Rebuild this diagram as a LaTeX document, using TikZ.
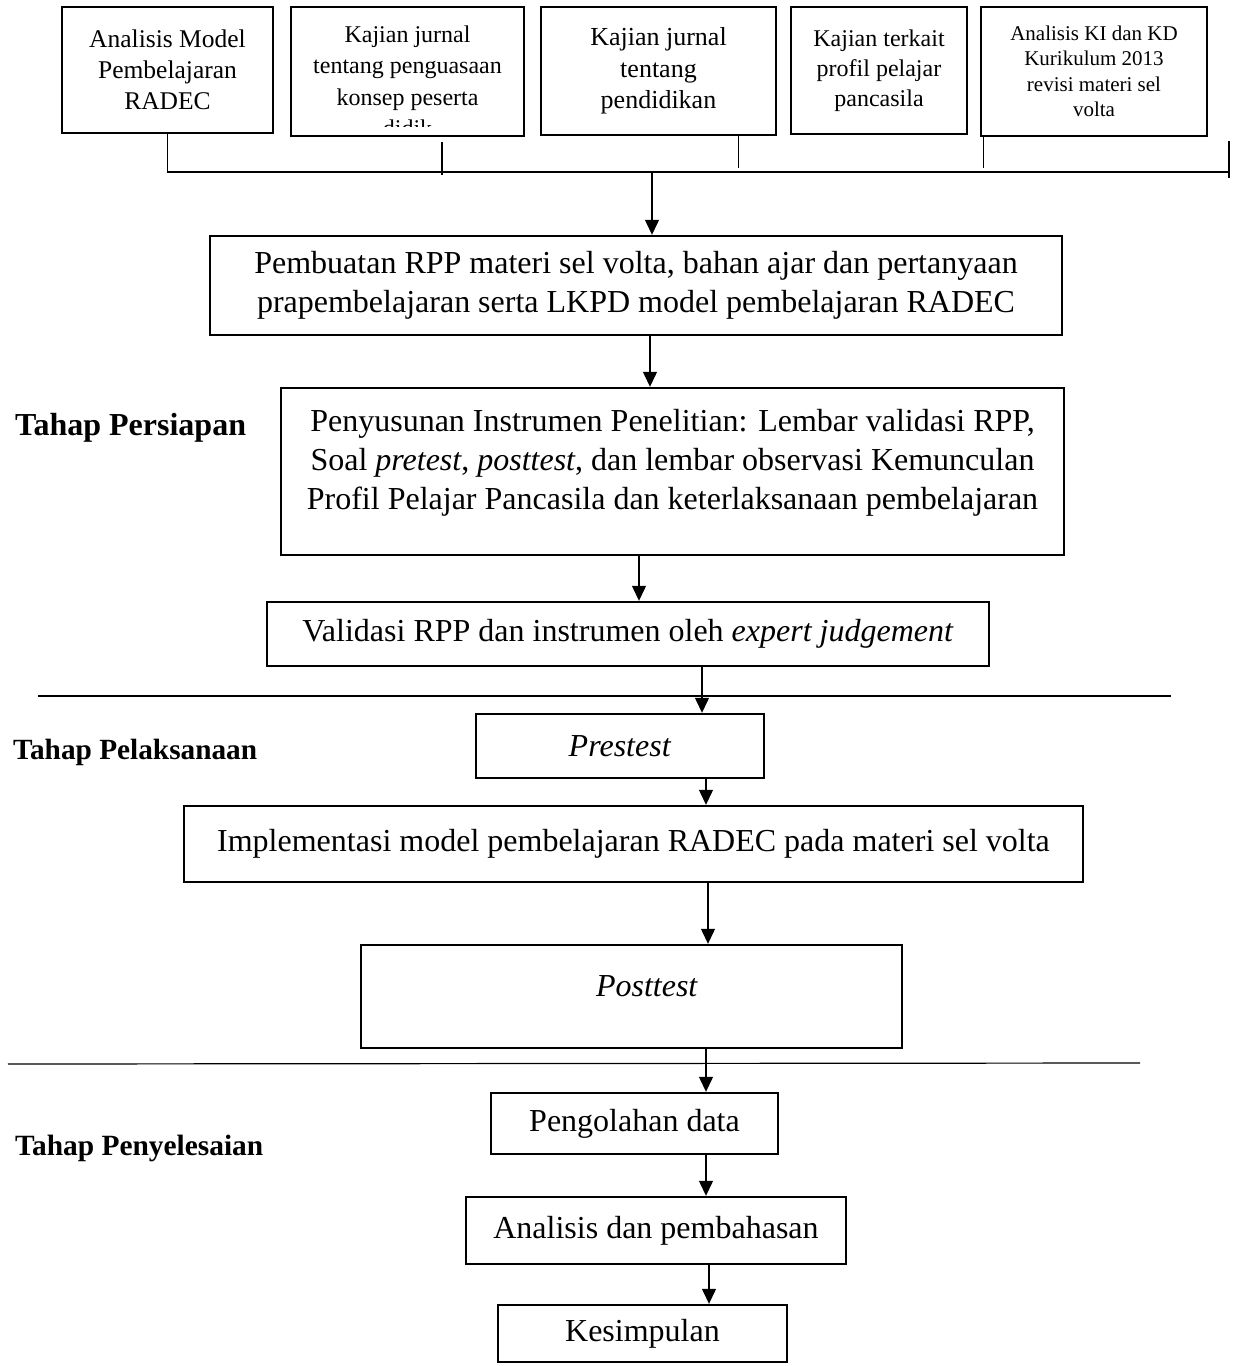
\documentclass[tikz,border=0pt]{standalone}
\usepackage{fontspec}
\setmainfont{Liberation Serif}
\usetikzlibrary{arrows.meta}
\tikzstyle{kotak}=[rectangle, draw, line width=2.4pt, align=center, inner sep=0pt]
\tikzstyle{panah}=[line width=1.2pt, -{Triangle[width=14pt,length=15pt]}]
\tikzstyle{garis}=[line width=1.2pt]
\tikzstyle{tahap}=[anchor=west, inner sep=0pt]
\newcommand{\kotak}{\node[kotak]}
\newcommand{\besar}{\fontsize{32}{39}\selectfont}

\begin{document}
\begin{tikzpicture}[x=1pt, y=-1pt]
            \useasboundingbox (0,0) rectangle (1237,1366);
            % kajian awal
            \kotak[minimum width=211pt, minimum height=126pt, font=\fontsize{25.5}{31}\selectfont] (a) at (167.5,70) {Analisis Model\\Pembelajaran\\RADEC};
            \kotak[minimum width=233pt, minimum height=129pt] (b) at (407.5,71.5) {};
            \begin{scope}
                \clip (293,9) rectangle (522,126);
                \node[align=center, inner sep=0pt, font=\fontsize{24}{31.5}\selectfont] (bteks) at (407.5,81.5) {Kajian jurnal\\tentang penguasaan\\konsep peserta\\didik};
            \end{scope}
            \kotak[minimum width=235pt, minimum height=128pt, font=\fontsize{26}{31.5}\selectfont] (c) at (658.5,71) {Kajian jurnal\\tentang\\pendidikan};
            \kotak[minimum width=176pt, minimum height=127pt, font=\fontsize{24}{30}\selectfont] (d) at (879,70.5) {Kajian terkait\\profil pelajar\\pancasila};
            \kotak[minimum width=226pt, minimum height=129pt, font=\fontsize{21}{25.5}\selectfont] (e) at (1094,71.5) {Analisis KI dan KD\\Kurikulum 2013\\revisi materi sel\\volta};
            % garis penghubung
            \coordinate (bus) at (0,172);
            \coordinate (ujung) at (1229,141);
            \coordinate (ujung2) at (1229,178);
            \draw[garis] (a.south) -- (a.south |- bus) -- (ujung |- bus);
            \draw[garis] ([xshift=34.5pt,yshift=-5pt]b.south) -- ([xshift=34.5pt,yshift=-3pt]b.south |- bus);
            \draw[garis] ([xshift=80pt]c.south) -- ([xshift=80pt,yshift=4pt]c.south |- bus);
            \draw[garis] ([xshift=4pt]e.south west) -- ([xshift=4pt,yshift=4pt]e.south west |- bus);
            \draw[garis] (ujung) -- (ujung2);
            % alur utama
            \kotak[minimum width=852pt, minimum height=99pt, font=\besar] (f) at (636,285.5) {Pembuatan RPP materi sel volta, bahan ajar dan pertanyaan\\prapembelajaran serta LKPD model pembelajaran RADEC};
            \kotak[minimum width=783pt, minimum height=167pt] (g) at (672.5,471.5) {};
            \node[align=center, inner sep=0pt, font=\besar] (gteks) at (672.5,462.5) {Penyusunan Instrumen Penelitian: Lembar validasi RPP,\\Soal \textit{pretest}, \textit{posttest}, dan lembar observasi Kemunculan\\Profil Pelajar Pancasila dan keterlaksanaan pembelajaran};
            \kotak[minimum width=722pt, minimum height=64pt, font=\besar] (h) at (628,634) {Validasi RPP dan instrumen oleh \textit{expert judgement}};
            \kotak[minimum width=288pt, minimum height=64pt, font=\besar] (i) at (620,746) {\textit{Prestest}};
            \kotak[minimum width=899pt, minimum height=76pt, font=\besar] (j) at (633.5,844) {Implementasi model pembelajaran RADEC pada materi sel volta};
            \kotak[minimum width=541pt, minimum height=103pt] (k) at (631.5,996.5) {};
            \node[inner sep=0pt, font=\besar] (kteks) at (647,986) {\textit{Posttest}};
            \kotak[minimum width=287pt, minimum height=61pt, font=\besar] (l) at (634.5,1123.5) {Pengolahan data};
            \kotak[minimum width=380pt, minimum height=67pt, font=\besar] (m) at (656,1230.5) {Analisis dan pembahasan};
            \kotak[minimum width=289pt, minimum height=57pt, font=\besar] (n) at (642.5,1333.5) {Kesimpulan};
            % tahap
            \node[tahap, font=\fontsize{32}{38}\selectfont\bfseries] (t1) at (15,428) {Tahap Persiapan};
            \node[tahap, font=\fontsize{29.3}{35}\selectfont\bfseries] (t2) at (13,752) {Tahap Pelaksanaan};
            \node[tahap, font=\fontsize{29.4}{35}\selectfont\bfseries] (t3) at (15,1148) {Tahap Penyelesaian};
            \draw[garis] (38,696) -- (1171,696);
            \draw[garis] (8,1064) -- (1140,1063);
            % panah
            \coordinate (kol) at (706,0);
            \draw[panah] (652,172) -- (f.north -| 652,0);
            \draw[panah] (f.south -| 650,0) -- (g.north -| 650,0);
            \draw[panah] (g.south -| 639,0) -- (h.north -| 639,0);
            \draw[panah] (h.south -| 702,0) -- (i.north -| 702,0);
            \draw[panah] (i.south -| kol) -- (j.north -| kol);
            \draw[panah] (j.south -| 708,0) -- (k.north -| 708,0);
            \draw[panah] (k.south -| kol) -- (l.north -| kol);
            \draw[panah] (l.south -| kol) -- (m.north -| kol);
            \draw[panah] (m.south -| 709,0) -- (n.north -| 709,0);
\end{tikzpicture}
\end{document}
